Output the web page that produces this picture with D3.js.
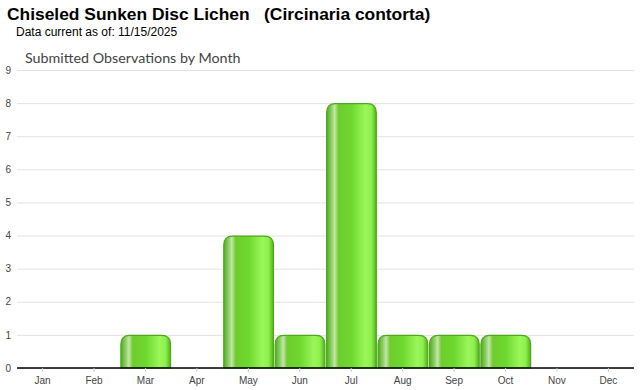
<!DOCTYPE html>
<html>
<head>
<meta charset="utf-8">
<script src="https://cdn.jsdelivr.net/npm/d3@7"></script>
<style>
  body { margin: 0; background: #fff; }
  .title { font: bold 17.4px "Liberation Sans", Arial, sans-serif; fill: #000; }
  .sub { font: 12px "Liberation Sans", Arial, sans-serif; fill: #000; }
  .ctitle { font: 14.3px Lato, "Noto Sans", sans-serif; fill: #444; }
  .tick text { font: 10px "Liberation Sans", Arial, sans-serif; fill: #444; }
</style>
</head>
<body>
<div class="canvas"></div>
<script>
// DATA
const months = ["Jan","Feb","Mar","Apr","May","Jun","Jul","Aug","Sep","Oct","Nov","Dec"];
const counts = [0, 0, 1, 0, 4, 1, 8, 1, 1, 1, 0, 0];
const yTicks = [0,1,2,3,4,5,6,7,8,9];

const W = 640, H = 390;
const margins = {top:70, right:6, bottom:22, left:17};
const width = W - margins.left - margins.right;
const height = H - margins.top - margins.bottom;

const svg = d3.select(".canvas").append("svg")
  .attr("width", W).attr("height", H);

// gradient for the bars
const defs = svg.append("defs");
const grad = defs.append("linearGradient").attr("id","barGrad")
  .attr("x1","0%").attr("x2","100%").attr("y1","0%").attr("y2","0%");
[[0,"#4fae1c"],[0.1,"#8fcf6a"],[0.16,"#c4e6a8"],[0.24,"#6fcc2e"],[0.5,"#6ed82e"],
 [0.78,"#9af75a"],[0.9,"#8ef04c"],[1,"#52b21c"]]
  .forEach(s => grad.append("stop").attr("offset", s[0]).attr("stop-color", s[1]));

svg.append("text").attr("class","title").attr("x",7).attr("y",20)
  .attr("xml:space","preserve")
  .text("Chiseled Sunken Disc Lichen   (Circinaria contorta)");
svg.append("text").attr("class","sub").attr("x",16).attr("y",36)
  .text("Data current as of: 11/15/2025");
svg.append("text").attr("class","ctitle").attr("x",25).attr("y",63)
  .text("Submitted Observations by Month");

const canvas = svg.append("g")
  .attr("transform", `translate(${margins.left},${margins.top})`);

// SCALES
const xScale = d3.scaleBand().domain(months).range([0, width]).paddingInner(0.005).paddingOuter(0.0);
const yScale = d3.scaleLinear().domain([0, 9]).range([height, 0]);

// grid + y labels
const yAxis = canvas.append("g")
  .call(d3.axisLeft(yScale).tickValues(yTicks).tickSize(-width).tickPadding(6).tickFormat(d3.format("d")));
yAxis.select(".domain").remove();
yAxis.selectAll(".tick line").attr("stroke","#e3e3e3");
yAxis.selectAll(".tick text").attr("x", -6);

// bars with rounded top corners
const r = 9;
canvas.selectAll("path.bar")
  .data(months.map((m,i) => ({m, v: counts[i]})).filter(d => d.v > 0))
  .enter().append("path")
  .attr("class","bar")
  .attr("fill","url(#barGrad)")
  .attr("stroke","#4caa18")
  .attr("stroke-width",1.2)
  .attr("d", d => {
    const x0 = xScale(d.m) + 1, x1 = xScale(d.m) + xScale.bandwidth() - 0.5;
    const y0 = yScale(d.v) + 0.5, yb = yScale(0);
    return `M${x0},${yb} L${x0},${y0+r} Q${x0},${y0} ${x0+r},${y0} L${x1-r},${y0} Q${x1},${y0} ${x1},${y0+r} L${x1},${yb} Z`;
  });

// x axis
const xAxis = canvas.append("g")
  .attr("transform", `translate(0,${height})`)
  .call(d3.axisBottom(xScale).tickSize(4).tickPadding(5));
xAxis.select(".domain").attr("stroke","#000").attr("stroke-width",1.5).attr("d", `M0,0H${width}`);
xAxis.selectAll(".tick line").attr("stroke","#ccc");
</script>
</body>
</html>
